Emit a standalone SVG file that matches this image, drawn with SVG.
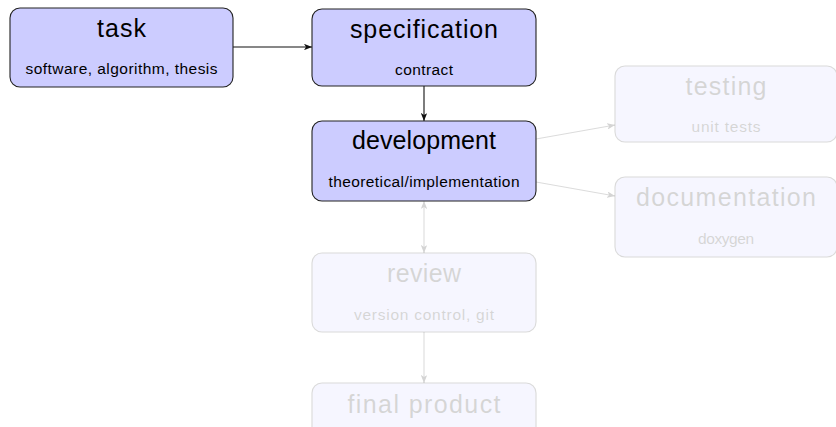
<svg xmlns="http://www.w3.org/2000/svg" width="836" height="427" viewBox="0 0 836 427">
<style>
.box{fill:#ccccff;stroke:#222;stroke-width:1.1}
.t{font-family:"Liberation Sans",Arial,sans-serif;font-size:25px;text-anchor:middle;fill:#000}
.s{font-family:"Liberation Sans",Arial,sans-serif;font-size:15.5px;text-anchor:middle;fill:#000}
.faded{opacity:0.16}
.c{stroke:#111;stroke-width:1.1;fill:none}
.cf{stroke:#dcdcdc;stroke-width:1.1;fill:none}
</style>
<defs>
<marker id="ah" viewBox="0 0 10 8" refX="10" refY="4" markerWidth="8" markerHeight="6.4" markerUnits="userSpaceOnUse" orient="auto-start-reverse"><path d="M0,0 L10,4 L0,8 L2.5,4 Z" fill="#111"/></marker>
<marker id="ahf" viewBox="0 0 10 8" refX="10" refY="4" markerWidth="8" markerHeight="6.4" markerUnits="userSpaceOnUse" orient="auto-start-reverse"><path d="M0,0 L10,4 L0,8 L2.5,4 Z" fill="#d4d4d4"/></marker>
</defs>
<g id="connectors">
<line class="c" x1="233" y1="47" x2="312" y2="47" marker-end="url(#ah)"/>
<line class="c" x1="424" y1="86" x2="424" y2="121" marker-end="url(#ah)"/>
<line class="cf" x1="536" y1="139" x2="615" y2="125" marker-end="url(#ahf)"/>
<line class="cf" x1="536" y1="182" x2="615" y2="196" marker-end="url(#ahf)"/>
<line class="cf" x1="424" y1="201" x2="424" y2="253" marker-start="url(#ahf)" marker-end="url(#ahf)"/>
<line class="cf" x1="424" y1="332" x2="424" y2="383" marker-end="url(#ahf)"/>
</g>
<g id="task">
<rect class="box" x="10" y="8" width="223" height="79" rx="10"/>
<text class="t" x="121.5" y="37" textLength="49">task</text>
<text class="s" x="121.5" y="74" textLength="192" lengthAdjust="spacing">software,  algorithm,  thesis</text>
</g>
<g id="specification">
<rect class="box" x="312" y="9" width="224" height="77" rx="10"/>
<text class="t" x="424" y="38" textLength="148">specification</text>
<text class="s" x="424" y="75" textLength="58">contract</text>
</g>
<g id="development">
<rect class="box" x="312" y="121" width="224" height="80" rx="10"/>
<text class="t" x="424" y="149" textLength="144">development</text>
<text class="s" x="424" y="187" textLength="191">theoretical/implementation</text>
</g>
<g id="testing" class="faded">
<rect class="box" x="615" y="66" width="222" height="76" rx="10"/>
<text class="t" x="726" y="95" textLength="81">testing</text>
<text class="s" x="726" y="132" textLength="69">unit  tests</text>
</g>
<g id="documentation" class="faded">
<rect class="box" x="615" y="177" width="222" height="80" rx="10"/>
<text class="t" x="726" y="206" textLength="180">documentation</text>
<text class="s" x="726" y="244" textLength="56">doxygen</text>
</g>
<g id="review" class="faded">
<rect class="box" x="312" y="253" width="224" height="79" rx="10"/>
<text class="t" x="424" y="282" textLength="74">review</text>
<text class="s" x="424" y="320" textLength="140">version  control,  git</text>
</g>
<g id="final_product" class="faded">
<rect class="box" x="312" y="383" width="224" height="60" rx="10"/>
<text class="t" x="424" y="413" textLength="153">final product</text>
</g>
</svg>
